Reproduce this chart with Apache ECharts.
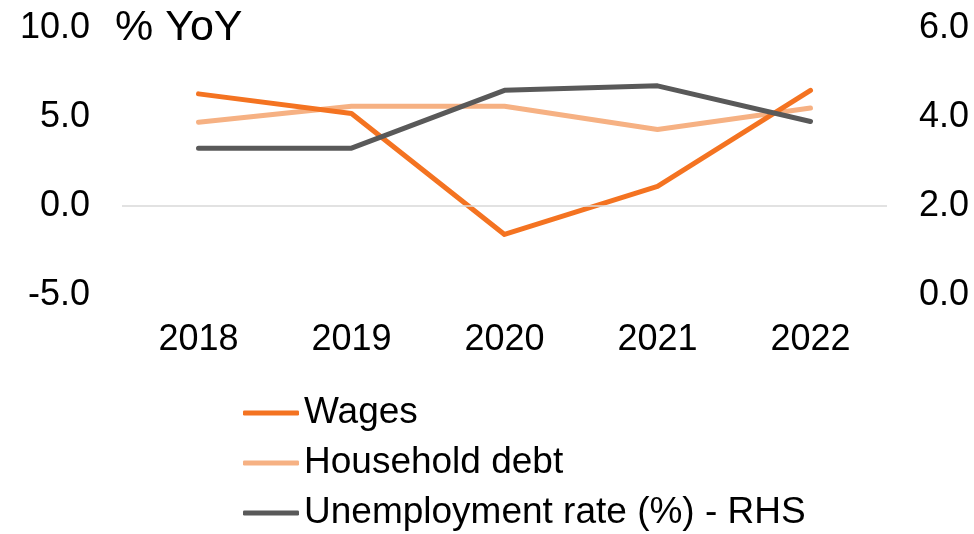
<!DOCTYPE html>
<html>
<head>
<meta charset="utf-8">
<script src="https://cdn.jsdelivr.net/npm/echarts@6/dist/echarts.min.js"></script>
<style>
  html, body { margin: 0; padding: 0; background: #fff; }
  #chart { width: 974px; height: 534px; }
</style>
</head>
<body>
<div id="chart"></div>
<script>
// Annual values, % YoY (wages, household debt) and % (unemployment, right axis)
const years = ['2018', '2019', '2020', '2021', '2022'];
const wages = [6.3, 5.2, -1.6, 1.1, 6.5];
const householdDebt = [4.7, 5.6, 5.6, 4.3, 5.5];
const unemploymentRate = [3.3, 3.3, 4.6, 4.7, 3.9];

const leftTicks = { min: -5, max: 10, interval: 5 };
const rightTicks = { min: 0, max: 6, interval: 2 };

const FONT = '"Liberation Sans", Arial, sans-serif';

const chart = echarts.init(document.getElementById('chart'), null, { renderer: 'canvas' });

function lineSeries(name, data, color, yAxisIndex, extra) {
  return Object.assign({
    name: name,
    type: 'line',
    data: data,
    yAxisIndex: yAxisIndex,
    symbol: 'none',
    smooth: false,
    lineStyle: { color: color, width: 5, cap: 'round', join: 'round' },
    itemStyle: { color: color },
    emphasis: { disabled: true },
    animation: false
  }, extra || {});
}

chart.setOption({
  animation: false,
  backgroundColor: '#ffffff',
  textStyle: { fontFamily: FONT },
  grid: { left: 122, right: 87, top: 28, bottom: 239, containLabel: false },
  graphic: [{
    type: 'text',
    left: 115,
    top: 7,
    style: { text: '% YoY', font: '43px ' + FONT, fill: '#000000' }
  }],
  legend: {
    orient: 'vertical',
    left: 243,
    top: 393,
    width: 700,
    height: 141,
    padding: 0,
    icon: 'roundRect',
    itemWidth: 56,
    itemHeight: 5,
    itemGap: 10,
    textStyle: { fontSize: 37, color: '#000000', fontFamily: FONT, lineHeight: 40 },
    data: ['Wages', 'Household debt', 'Unemployment rate (%) - RHS']
  },
  xAxis: {
    type: 'category',
    data: years,
    boundaryGap: true,
    axisLine: { show: false, onZero: false },
    axisTick: { show: false },
    axisLabel: { fontSize: 36, color: '#000000', margin: 27, fontFamily: FONT },
    splitLine: { show: false }
  },
  yAxis: [{
    type: 'value',
    min: leftTicks.min,
    max: leftTicks.max,
    interval: leftTicks.interval,
    axisLine: { show: false },
    axisTick: { show: false },
    splitLine: { show: false },
    axisLabel: {
      fontSize: 36, color: '#000000', margin: 32, fontFamily: FONT,
      formatter: v => v.toFixed(1)
    }
  }, {
    type: 'value',
    position: 'right',
    min: rightTicks.min,
    max: rightTicks.max,
    interval: rightTicks.interval,
    axisLine: { show: false },
    axisTick: { show: false },
    splitLine: { show: false },
    axisLabel: {
      fontSize: 36, color: '#000000', margin: 32, fontFamily: FONT,
      formatter: v => v.toFixed(1)
    }
  }],
  series: [
    lineSeries('Household debt', householdDebt, '#F6B183', 0, {
      markLine: {
        silent: true,
        symbol: 'none',
        label: { show: false },
        lineStyle: { color: '#D9D9D9', width: 1.5, type: 'solid' },
        data: [{ yAxis: 0 }],
        animation: false
      },
      z: 2
    }),
    lineSeries('Wages', wages, '#F47321', 0, { z: 3 }),
    lineSeries('Unemployment rate (%) - RHS', unemploymentRate, '#595959', 1, { z: 4 })
  ]
});
</script>
</body>
</html>
